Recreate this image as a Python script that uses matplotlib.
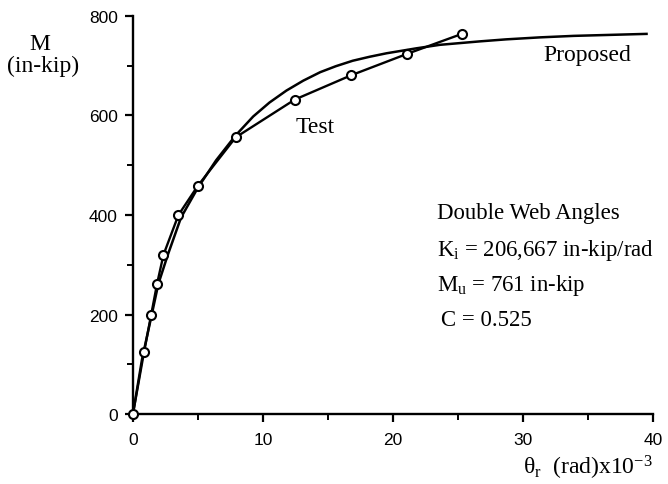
import matplotlib
matplotlib.use("Agg")
import matplotlib.pyplot as plt
from matplotlib.ticker import MultipleLocator

# Test points: rotation (x10^-3 rad) and moment (in-kip)
test_theta = [0.0, 0.85, 1.4, 1.85, 2.35, 3.5, 5.0, 7.9, 12.45, 16.8, 21.1, 25.3]
test_moment = [0, 124, 199, 261, 320, 400, 459, 556, 632, 681, 724, 764]

# Proposed curve
prop_theta = [0.0, 0.7, 1.44, 1.95, 2.67, 3.7, 5.0, 6.4, 7.9, 9.25, 10.5, 11.8,
              13.1, 14.4, 15.6, 16.9, 18.2, 19.5, 21.8, 23.6, 26.7, 28.7,
              31.3, 33.9, 36.7, 39.5]
prop_moment = [0, 110, 199, 261, 319, 395, 455, 510, 560, 598, 626, 650,
               670, 687, 699, 710, 718, 725, 735, 742, 749, 753,
               757, 760, 762, 764]

plt.rcParams['font.family'] = ['Liberation Serif', 'DejaVu Serif']
plt.rcParams['mathtext.fontset'] = 'custom'
plt.rcParams['mathtext.rm'] = 'Liberation Serif'
plt.rcParams['mathtext.it'] = 'Liberation Serif:italic'

fig = plt.figure(figsize=(6.68, 4.85), dpi=100)
ax = fig.add_axes([0.199, 0.1443, 0.7786, 0.8207])

ax.plot(prop_theta, prop_moment, color='black', linewidth=1.8, clip_on=False)
ax.plot(test_theta, test_moment, color='black', linewidth=1.7,
        marker='o', markersize=6.5, markerfacecolor='white',
        markeredgecolor='black', markeredgewidth=1.5, clip_on=False, zorder=3)

ax.set_xlim(0, 40)
ax.set_ylim(0, 800)
ax.xaxis.set_major_locator(MultipleLocator(10))
ax.xaxis.set_minor_locator(MultipleLocator(5))
ax.yaxis.set_major_locator(MultipleLocator(200))
ax.yaxis.set_minor_locator(MultipleLocator(100))

for s in ['top', 'right']:
    ax.spines[s].set_visible(False)
for s in ['left', 'bottom']:
    ax.spines[s].set_linewidth(1.7)

ax.tick_params(which='major', direction='out', length=6, width=1.6)
ax.tick_params(axis='x', which='major', pad=7)
ax.tick_params(axis='y', which='major', pad=5)
ax.tick_params(which='minor', direction='out', length=4, width=1.4)
for lab in ax.get_xticklabels() + ax.get_yticklabels():
    lab.set_family(['Liberation Sans', 'DejaVu Sans'])
    lab.set_fontsize(12.5)

# axis titles
fig.text(40 / 668, 1 - 45 / 485, 'M', ha='center', va='center', fontsize=17)
fig.text(43 / 668, 1 - 66 / 485, '(in-kip)', ha='center', va='center', fontsize=17)
fig.text(653 / 668, 1 - 468 / 485, r'θ$_\mathrm{r}$  (rad)x10$^\mathrm{-3}$',
         ha='right', va='center', fontsize=17)

# curve labels
ax.text(12.5, 578, 'Test', ha='left', va='center', fontsize=17)
ax.text(31.6, 722, 'Proposed', ha='left', va='center', fontsize=17)

# parameters
ax.text(23.4, 405, 'Double Web Angles', ha='left', va='center', fontsize=16.4)
ax.text(23.4, 331, r'K$_\mathrm{i}$ = 206,667 in-kip/rad', ha='left', va='center', fontsize=16.4)
ax.text(23.4, 261, r'M$_\mathrm{u}$ = 761 in-kip', ha='left', va='center', fontsize=16.4)
ax.text(23.7, 189, 'C = 0.525', ha='left', va='center', fontsize=16.4)

fig.savefig('out.png', dpi=100)
